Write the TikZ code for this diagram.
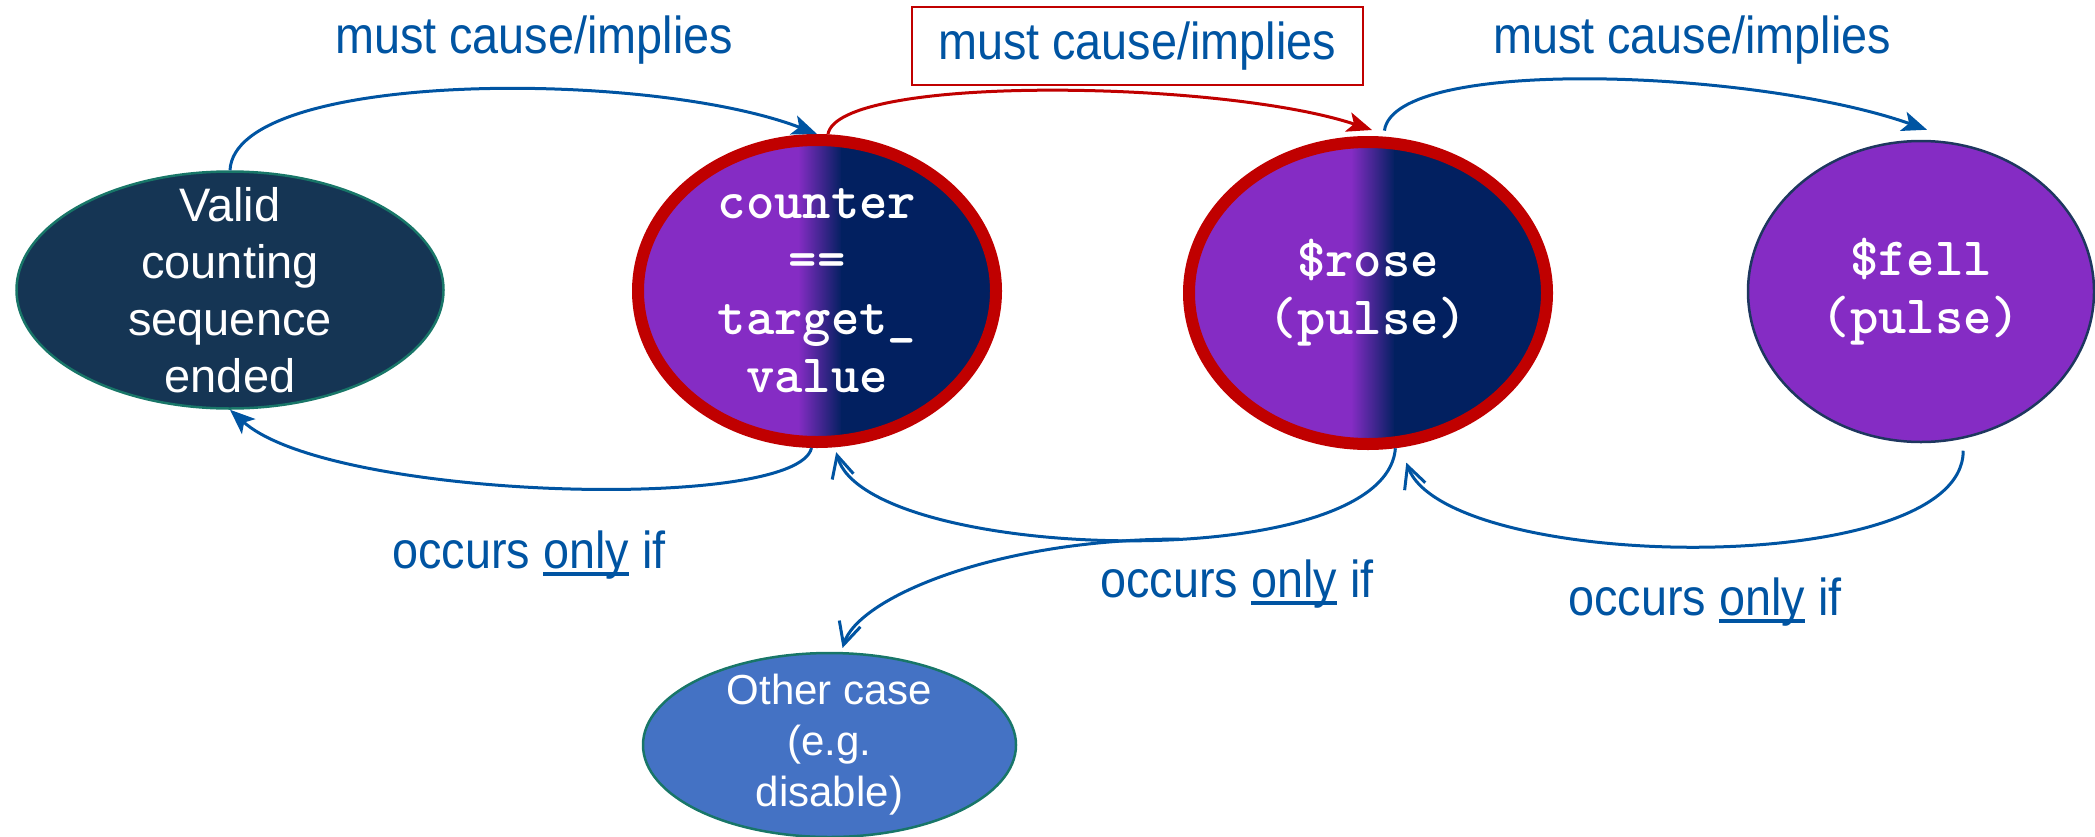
\documentclass[tikz,border=0pt]{standalone}
\usepackage{fontspec}
\usepackage{graphicx}
\setmainfont{Liberation Sans}
\usetikzlibrary{shapes.geometric,arrows.meta}

\definecolor{linkblue}{RGB}{0,84,162}
\definecolor{causered}{RGB}{192,0,0}
\definecolor{validfill}{RGB}{21,53,84}
\definecolor{tealedge}{RGB}{24,118,104}
\definecolor{sigpurple}{RGB}{133,44,196}
\definecolor{signavy}{RGB}{2,32,96}
\definecolor{felledge}{RGB}{30,55,95}
\definecolor{otherfill}{RGB}{68,114,196}

% underline drawn as a rule under the word
\newcommand\onlyline[1]{\leavevmode\setbox0\hbox{#1}\rlap{\rule[-0.15em]{\wd0}{0.065em}}\box0\relax}
\newcommand\relword[1]{\scalebox{0.9}[1]{#1}}

\tikzset{
  state/.style={shape=ellipse, inner sep=0pt},
  relation/.style={text=linkblue, inner sep=0pt, anchor=base,
    font=\fontsize{52}{60}\selectfont},
  bodytext/.style={text=white, align=center, inner sep=0pt,
    font=\fontsize{47}{57}\selectfont},
  smalltext/.style={text=white, align=center, inner sep=0pt,
    font=\fontsize{42}{51}\selectfont},
  codetext/.style={text=white, align=center, inner sep=0pt,
    font=\fontsize{54}{58}\selectfont\ttfamily\bfseries},
  link/.style={draw=linkblue, line width=3pt},
  causelink/.style={draw=causered, line width=3pt},
  fillhead/.style={-{Stealth[length=25pt,width=20pt,inset=6pt]}},
  openhead/.style={-{Straight Barb[length=22pt,width=22pt]}},
  % purple on the left, navy on the right, short blend in between
  splitfill/.style={path picture={
    \fill[sigpurple] (path picture bounding box.south west)
      rectangle ([xshift=#1pt-21pt]path picture bounding box.north);
    \shade[left color=sigpurple, right color=signavy]
      ([xshift=#1pt-22pt]path picture bounding box.south)
      rectangle ([xshift=#1pt+22pt]path picture bounding box.north);
    \fill[signavy] ([xshift=#1pt+21pt]path picture bounding box.south)
      rectangle (path picture bounding box.north east);
  }},
}

\begin{document}
\begin{tikzpicture}[x=1pt, y=-1pt]
\useasboundingbox (0,0) rectangle (2095,836);

% states
\node[state, fill=validfill, draw=tealedge, line width=2.5pt,
  minimum width=427pt, minimum height=237pt,
  label={[bodytext]center:{Valid\\counting\\sequence\\ended}}] (valid) at (230,290) {};

\node[state, splitfill=3, draw=causered, line width=12pt,
  minimum width=358pt, minimum height=302pt,
  label={[codetext]center:{counter\\==\\target\_\\value}}] (counter) at (817,291) {};

\node[state, splitfill=5, draw=causered, line width=12pt,
  minimum width=358pt, minimum height=302pt,
  label={[codetext]center:{\$rose\\(pulse)}}] (rose) at (1368,293) {};

\node[state, fill=sigpurple, draw=felledge, line width=2.5pt,
  minimum width=346pt, minimum height=301pt,
  label={[codetext]center:{\$fell\\(pulse)}}] (fell) at (1921,291.5) {};

\node[state, fill=otherfill, draw=tealedge, line width=2.5pt,
  minimum width=373pt, minimum height=184pt,
  label={[smalltext]center:{Other case\\(e.g.\\disable)}}] (other) at (829.5,745) {};

% forward relations
\draw[link, fillhead] (valid.north)
  .. controls +(5,-100) and +(-170,-65) .. (counter.north);
\draw[causelink, fillhead] (counter.86)
  .. controls +(10,-60) and +(-150,-50) .. ([shift={(4,-6)}]rose.north);
\draw[link, fillhead] ([shift={(0,-6)}]rose.84)
  .. controls +(10,-75) and +(-170,-60) .. ([shift={(6,-10)}]fell.north);

% backward relations
\draw[link, fillhead] (counter.268)
  .. controls +(-15,65) and +(100,90) .. (valid.south);
\draw[link, openhead] (rose.280)
  .. controls +(-10,130) and +(30,110) .. coordinate[pos=0.43] (fork)
  ([shift={(0,5)}]counter.277);
\draw[link, openhead] (fork)
  .. controls +(-184,0) and +(15,-50) .. ([shift={(0,-4)}]other.82);
\draw[link, openhead] ([shift={(0,12)}]fell.-74)
  .. controls +(0,130) and +(40,110) .. ([shift={(0,16)}]rose.-76);

% relation labels
\node[relation] (causeA) at (534,53) {\relword{must cause/implies}};
\node[relation, anchor=center, draw=causered, line width=2pt,
  minimum width=451pt, minimum height=78pt] (causeB) at (1137,46)
  {\relword{must cause/implies}};
\node[relation] (causeC) at (1692,53) {\relword{must cause/implies}};
\node[relation] (onlyA) at (529,568) {\relword{occurs \onlyline{only} if}};
\node[relation] (onlyB) at (1237,597) {\relword{occurs \onlyline{only} if}};
\node[relation] (onlyC) at (1705,615) {\relword{occurs \onlyline{only} if}};
\end{tikzpicture}
\end{document}
